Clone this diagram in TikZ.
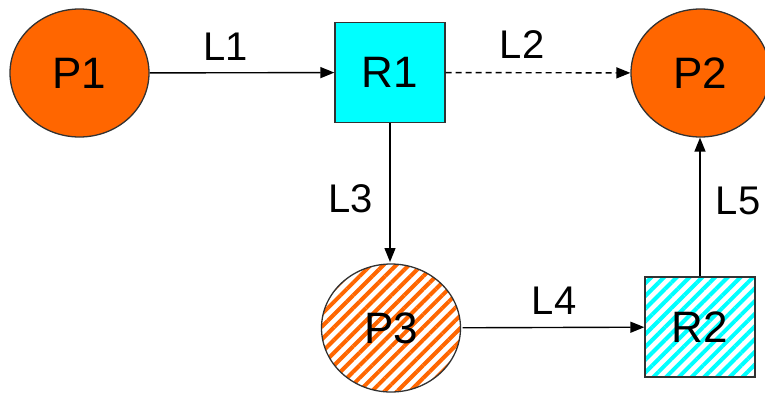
\documentclass[tikz,border=0pt]{standalone}
\usepackage{fontspec}
\setmainfont{Liberation Sans}
\usetikzlibrary{arrows.meta,positioning,shapes.geometric,patterns.meta}
\definecolor{placeorange}{RGB}{255,102,0}
\definecolor{resourcecyan}{RGB}{0,255,255}
\definecolor{rim}{RGB}{50,50,50}

\begin{document}
\begin{tikzpicture}[x=1pt,y=-1pt,
 place/.style={ellipse,draw=rim,line width=1.3pt,minimum width=139pt,minimum height=128pt,
 inner sep=0pt,font=\fontsize{44}{46}\selectfont},
 res/.style={rectangle,draw=rim,line width=1.3pt,minimum width=110pt,minimum height=100pt,
 inner sep=0pt,font=\fontsize{44}{46}\selectfont},
 hatch/.style={pattern={Lines[angle=45,distance=9pt,line width=4pt]},pattern color=#1},
 lbl/.style={font=\fontsize{40}{42}\selectfont,inner sep=0pt},
 arr/.style={-{Triangle[length=14pt,width=11pt]},line width=1.4pt,black}]
\useasboundingbox (0,0) rectangle (765,394);
\node[place,fill=placeorange] (p1) at (79.5,73) {P1};
\node[res,fill=resourcecyan] (r1) at (390,72.5) {R1};
\node[place,fill=placeorange] (p2) at (700.5,73) {P2};
\node[place,fill=white,hatch=placeorange] (p3) at (391,328) {P3};
\node[res,fill=white,hatch=resourcecyan] (r2) at (700,327) {R2};
\node[lbl] (l1) at (226,47) {L1};
\node[lbl] (l2) at (522,45) {L2};
\node[lbl] (l3) at (351,199) {L3};
\node[lbl] (l4) at (554,301) {L4};
\node[lbl] (l5) at (738,201) {L5};
\draw[arr] (p1)--(r1); \draw[arr,dash pattern=on 6pt off 4pt] (r1)--(p2);
\draw[arr] (r1.south)--(r1.south|-p3.north); \draw[arr] (p3)--(r2); \draw[arr] (r2.north)--(r2.north|-p2.south);
\end{tikzpicture}
\end{document}
